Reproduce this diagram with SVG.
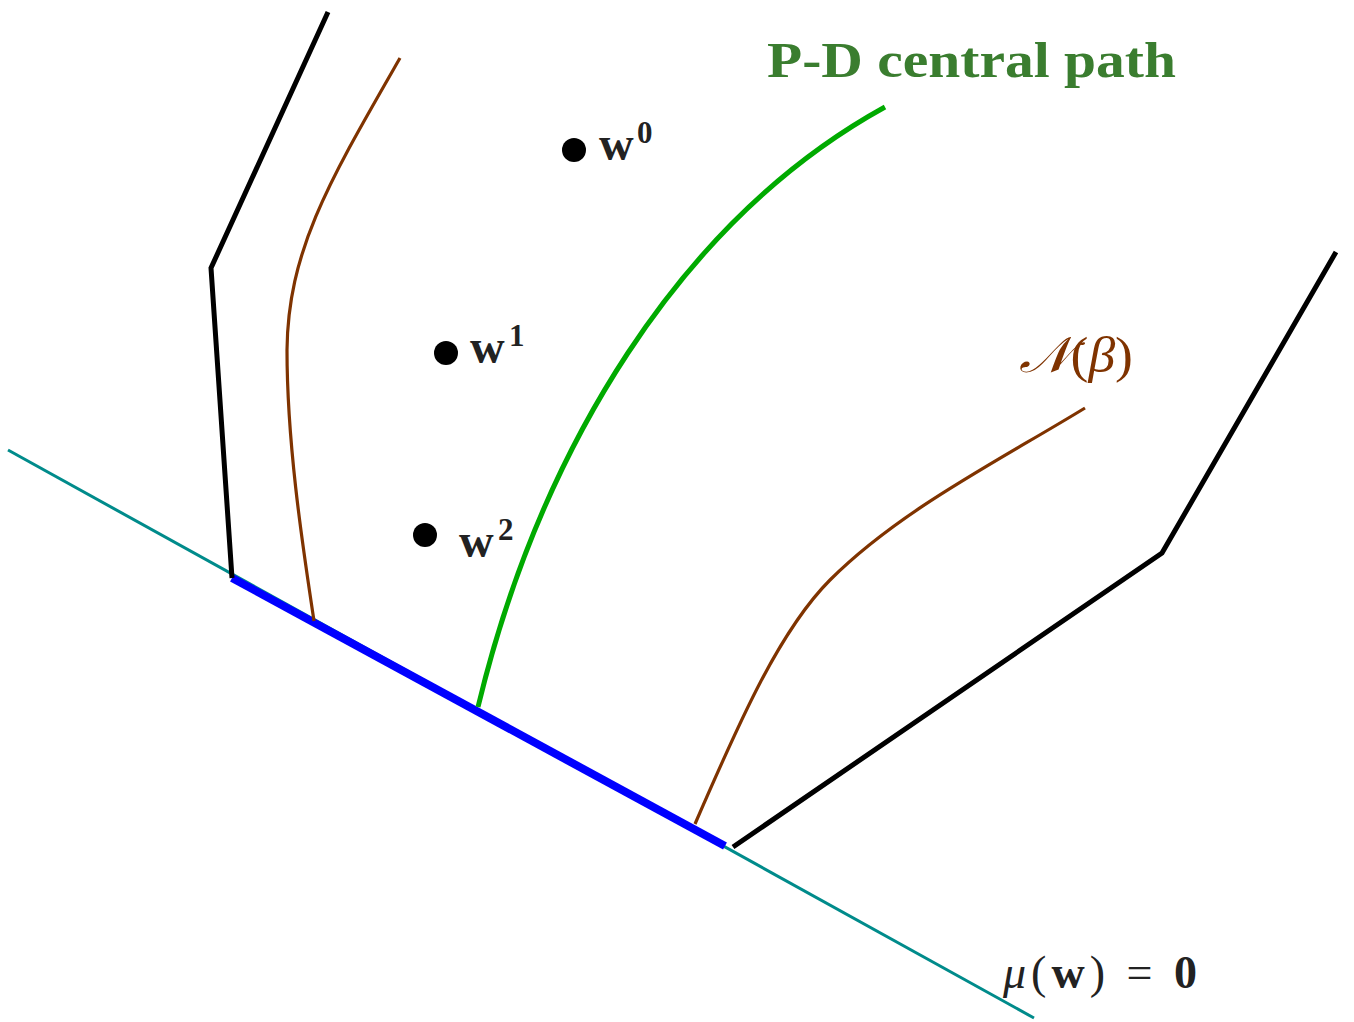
<svg xmlns="http://www.w3.org/2000/svg" width="1354" height="1022" viewBox="0 0 1354 1022">
<style>
.ln{fill:none;stroke-linejoin:miter}
.blk{stroke:#000;stroke-width:5}
.brn{stroke:#7f3300;stroke-width:3.2}
.lbl{font-family:"Liberation Serif","DejaVu Serif",serif;fill:#222}
.dot{fill:#000}
</style>
<rect width="1354" height="1022" fill="#fff"/>
<g id="connectors">
<line id="mu-line" x1="8" y1="450" x2="1034" y2="1018" stroke="#008b8b" stroke-width="3"/>
<line id="optimal-face" x1="232" y1="578" x2="725" y2="846" stroke="#0000ff" stroke-width="8"/>
<polyline id="left-boundary" class="ln blk" points="328,12 211,268 232,578"/>
<polyline id="right-boundary" class="ln blk" points="733,847 1162,553 1336,252"/>
<path id="nbhd-left" class="ln brn" d="M400,58 C330,180 288,250 287,350 C287,450 305,560 314,621"/>
<path id="nbhd-right" class="ln brn" d="M695,824 C740,720 780,630 830,580 C900,510 1000,460 1085,408"/>
<path id="central-path" class="ln" stroke="#00aa00" stroke-width="5" d="M478,707 C540,450 680,220 885,107"/>
</g>
<g id="title">
<text x="767" y="77" font-family="Liberation Serif,serif" font-weight="bold" font-size="50" fill="#3a7d2f" textLength="409" lengthAdjust="spacingAndGlyphs">P-D central path</text>
</g>
<g id="w0">
<circle class="dot" cx="574" cy="150" r="12"/>
<text class="lbl" x="599" y="160" font-weight="bold" font-size="48">w</text>
<text class="lbl" x="637" y="143" font-weight="bold" font-size="31">0</text>
</g>
<g id="w1">
<circle class="dot" cx="446" cy="353" r="12"/>
<text class="lbl" x="470" y="363" font-weight="bold" font-size="48">w</text>
<text class="lbl" x="509" y="346" font-weight="bold" font-size="31">1</text>
</g>
<g id="w2">
<circle class="dot" cx="425" cy="535" r="12"/>
<text class="lbl" x="459" y="557" font-weight="bold" font-size="48">w</text>
<text class="lbl" x="498" y="540" font-weight="bold" font-size="31">2</text>
</g>
<g id="nbhd-label">
<text x="1019" y="372" font-family="Liberation Serif,DejaVu Serif,serif" font-size="50" fill="#7f3300" textLength="114" lengthAdjust="spacingAndGlyphs"><tspan font-style="italic">𝒩</tspan>(<tspan font-style="italic">β</tspan>)</text>
</g>
<g id="mu-label">
<text class="lbl" x="1003" y="988" font-size="46" textLength="194"><tspan font-style="italic">μ</tspan>(<tspan font-weight="bold">w</tspan>) = <tspan font-weight="bold">0</tspan></text>
</g>
</svg>
